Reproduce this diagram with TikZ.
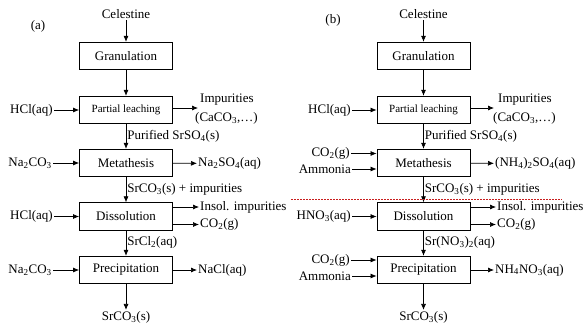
\documentclass[tikz,border=0pt]{standalone}
\usepackage{fontspec}
\setmainfont{Liberation Serif}
\usetikzlibrary{arrows.meta}
\newcommand{\sbs}[1]{\textsubscript{#1}}
\definecolor{dotred}{RGB}{200,30,30}
\begin{document}
\begin{tikzpicture}[x=1pt,y=-1pt,
  font=\fontsize{13}{14}\selectfont,
  proc/.style={draw,line width=0.8pt,minimum width=93pt,minimum height=27.5pt,inner sep=0pt},
  txt/.style={inner sep=1pt},
  arr/.style={line width=0.7pt,-{Latex[length=6pt,width=5pt]}}]
\useasboundingbox (0,0) rectangle (584,327);
% ---------------- panel (a) ----------------
\node[txt] (la) at (38,26) {(a)};
\node[txt] (ca) at (126,14) {Celestine};
\node[proc] (ga) at (126,56) {Granulation};
\node[proc,font=\fontsize{11}{12}\selectfont] (pa) at (126,110) {Partial leaching};
\node[proc] (ma) at (126,163) {Metathesis};
\node[proc] (da) at (126,216.5) {Dissolution};
\node[proc] (ra) at (126,270) {Precipitation};
\node[txt] (sa) at (126,317) {SrCO\sbs{3}(s)};
\draw[arr] (ca) -- (ga);
\draw[arr] (ga) -- (pa);
\draw[arr] (pa) -- node[txt,right,pos=0.5] {Purified SrSO\sbs{4}(s)} (ma);
\draw[arr] (ma) -- node[txt,right,pos=0.5] {SrCO\sbs{3}(s) + impurities} (da);
\draw[arr] (da) -- node[txt,right,pos=0.45] {SrCl\sbs{2}(aq)} (ra);
\draw[arr] (ra) -- (sa);
% inputs
\node[txt,anchor=east] (ia1) at (54,110) {HCl(aq)};
\node[txt,anchor=east] (ia2) at (53,163) {Na\sbs{2}CO\sbs{3}};
\node[txt,anchor=east] (ia3) at (54,216.5) {HCl(aq)};
\node[txt,anchor=east] (ia4) at (53,270) {Na\sbs{2}CO\sbs{3}};
\draw[arr] (ia1) -- (pa);
\draw[arr] (ia2) -- (ma);
\draw[arr] (ia3) -- (da);
\draw[arr] (ia4) -- (ra);
% outputs
\coordinate (oa1) at (198,108);
\node[txt,anchor=west] (ta1) at (199,100) {Impurities};
\node[txt,anchor=west] (ta1b) at (194,118) {(CaCO\sbs{3},\ldots)};
\draw[arr] (pa.east |- oa1) -- (oa1);
\node[txt,anchor=west] (ta2) at (197,163.5) {Na\sbs{2}SO\sbs{4}(aq)};
\draw[arr] (ma) -- (ta2);
\node[txt,anchor=west] (ta3) at (199,207) {Insol. impurities};
\node[txt,anchor=west] (ta4) at (199,224.5) {CO\sbs{2}(g)};
\draw[arr] (da.east |- ta3) -- (ta3);
\draw[arr] (da.east |- ta4) -- (ta4);
\node[txt,anchor=west] (ta5) at (197,270) {NaCl(aq)};
\draw[arr] (ra) -- (ta5);
% ---------------- panel (b) ----------------
\node[txt] (lb) at (333,20) {(b)};
\node[txt] (cb) at (423.5,14) {Celestine};
\node[proc] (gb) at (423.5,56) {Granulation};
\node[proc,font=\fontsize{11}{12}\selectfont] (pb) at (423.5,110) {Partial leaching};
\node[proc] (mb) at (423.5,163) {Metathesis};
\node[proc] (db) at (423.5,216.5) {Dissolution};
\node[proc] (rb) at (423.5,270) {Precipitation};
\node[txt] (sb) at (423.5,317) {SrCO\sbs{3}(s)};
\draw[arr] (cb) -- (gb);
\draw[arr] (gb) -- (pb);
\draw[arr] (pb) -- node[txt,right,pos=0.5] {Purified SrSO\sbs{4}(s)} (mb);
\draw[arr] (mb) -- node[txt,right,pos=0.5] {SrCO\sbs{3}(s) + impurities} (db);
\draw[arr] (db) -- node[txt,right,pos=0.45] {Sr(NO\sbs{3})\sbs{2}(aq)} (rb);
\draw[arr] (rb) -- (sb);
\draw[dotred,line width=1.1pt,dash pattern=on 2pt off 1pt] (291,199.5) coordinate (d1) -- (562,199.5) coordinate (d2);
% inputs
\node[txt,anchor=east] (ib1) at (352,110) {HCl(aq)};
\node[txt,anchor=east] (ib2) at (351,153.5) {CO\sbs{2}(g)};
\node[txt,anchor=east] (ib3) at (352,169) {Ammonia};
\node[txt,anchor=east] (ib4) at (352,216.5) {HNO\sbs{3}(aq)};
\node[txt,anchor=east] (ib5) at (351,260) {CO\sbs{2}(g)};
\node[txt,anchor=east] (ib6) at (352,276) {Ammonia};
\draw[arr] (ib1) -- (pb);
\draw[arr] (ib2) -- (ib2 -| mb.west);
\draw[arr] (ib3) -- (ib3 -| mb.west);
\draw[arr] (ib4) -- (db);
\draw[arr] (ib5) -- (ib5 -| rb.west);
\draw[arr] (ib6) -- (ib6 -| rb.west);
% outputs
\coordinate (ob1) at (494,108);
\node[txt,anchor=west] (tb1) at (497,100) {Impurities};
\node[txt,anchor=west] (tb1b) at (492,118) {(CaCO\sbs{3},\ldots)};
\draw[arr] (pb.east |- ob1) -- (ob1);
\node[txt,anchor=west] (tb2) at (494,163.5) {(NH\sbs{4})\sbs{2}SO\sbs{4}(aq)};
\draw[arr] (mb) -- (tb2);
\node[txt,anchor=west] (tb3) at (496,207) {Insol. impurities};
\node[txt,anchor=west] (tb4) at (496,224.5) {CO\sbs{2}(g)};
\draw[arr] (db.east |- tb3) -- (tb3);
\draw[arr] (db.east |- tb4) -- (tb4);
\node[txt,anchor=west] (tb5) at (494,270) {NH\sbs{4}NO\sbs{3}(aq)};
\draw[arr] (rb) -- (tb5);
\end{tikzpicture}
\end{document}
